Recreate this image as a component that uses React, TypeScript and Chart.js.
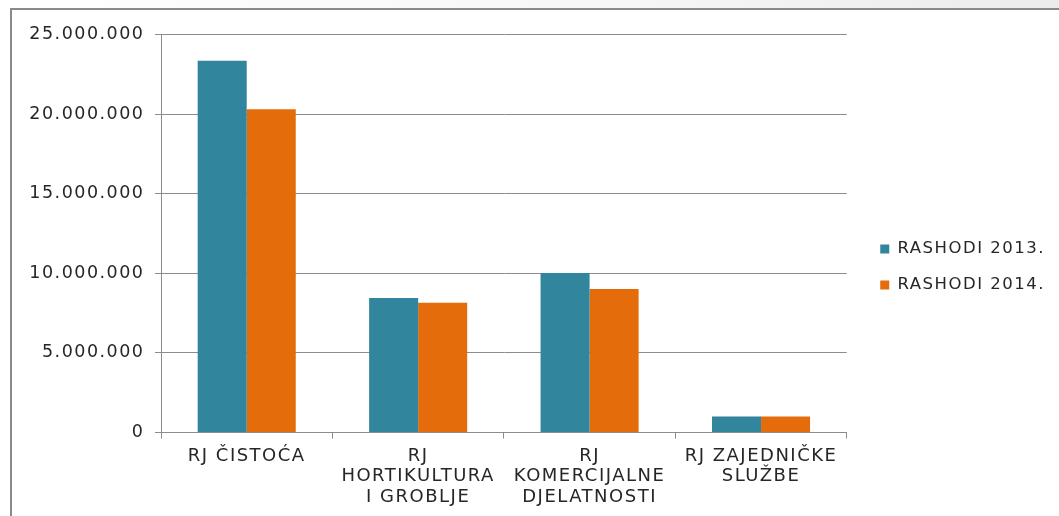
import React, { useEffect, useRef } from 'react';
import { Chart, registerables } from 'chart.js';

Chart.register(...registerables);

const categories: string[][] = [
  ['RJ ČISTOĆA'],
  ['RJ', 'HORTIKULTURA', 'I GROBLJE'],
  ['RJ', 'KOMERCIJALNE', 'DJELATNOSTI'],
  ['RJ ZAJEDNIČKE', 'SLUŽBE'],
];
const seriesNames = ['RASHODI 2013.', 'RASHODI 2014.'];
const rashodi2013 = [23350000, 8450000, 10020000, 1010000];
const rashodi2014 = [20300000, 8150000, 9020000, 1010000];
const seriesColors = ['#31859C', '#E46C0A'];
const yMax = 25000000;
const yStep = 5000000;

const FONT = "'DejaVu Sans', sans-serif";
const TEXT = '#262626';
const GRID = '#8c8c8c';

function formatThousands(v: number): string {
  return String(Math.round(v)).replace(/\B(?=(\d{3})+(?!\d))/g, '.');
}

const letterSpacingPlugin = {
  id: 'letterSpacing',
  beforeUpdate(chart: any) {
    chart.ctx.letterSpacing = '1.5px';
  },
  beforeDraw(chart: any) {
    chart.ctx.letterSpacing = '1.5px';
  },
};

export default function App() {
  const ref = useRef<HTMLCanvasElement | null>(null);

  useEffect(() => {
    if (!ref.current) return;
    const chart = new Chart(ref.current, {
      type: 'bar',
      data: {
        labels: categories,
        datasets: [
          {
            label: seriesNames[0],
            data: rashodi2013,
            backgroundColor: seriesColors[0],
            borderWidth: 0,
          },
          {
            label: seriesNames[1],
            data: rashodi2014,
            backgroundColor: seriesColors[1],
            borderWidth: 0,
          },
        ],
      },
      options: {
        animation: false,
        responsive: false,
        devicePixelRatio: 1,
        layout: { padding: { left: 0, top: 8, right: 4, bottom: 0 } },
        datasets: {
          bar: { categoryPercentage: 0.572, barPercentage: 1 },
        },
        plugins: {
          tooltip: { enabled: false },
          legend: {
            position: 'right',
            maxWidth: 400,
            labels: {
              boxWidth: 9,
              boxHeight: 9,
              padding: 19.5,
              color: TEXT,
              font: { family: FONT, size: 16.5 },
            },
          },
        },
        scales: {
          x: {
            offset: true,
            grid: {
              offset: true,
              drawOnChartArea: false,
              drawTicks: true,
              tickLength: 6,
              color: GRID,
            },
            border: { display: true, color: GRID },
            ticks: {
              color: TEXT,
              padding: 7,
              maxRotation: 0,
              autoSkip: false,
              font: { family: FONT, size: 18, lineHeight: 1.16 },
            },
            afterFit: (s: any) => {
              s.height = 83.5;
            },
          },
          xTop: {
            type: 'category',
            axis: 'x',
            position: 'top',
            display: true,
            grid: { display: false },
            border: { display: false },
            ticks: { display: false },
            afterFit: (s: any) => {
              s.height = 16.5;
            },
          },
          y: {
            min: 0,
            max: yMax,
            grid: { color: GRID, tickLength: 6 },
            border: { display: true, color: GRID },
            ticks: {
              stepSize: yStep,
              color: TEXT,
              padding: 10.5,
              font: { family: FONT, size: 17.5 },
              callback: (v: any) => formatThousands(Number(v)),
            },
            afterFit: (s: any) => {
              s.width = 149;
            },
          },
          yPad: {
            type: 'linear',
            axis: 'y',
            position: 'right',
            display: true,
            grid: { display: false },
            border: { display: false },
            ticks: { display: false },
            afterFit: (s: any) => {
              s.width = 14;
            },
          },
        },
      } as any,
      plugins: [letterSpacingPlugin],
    });
    return () => chart.destroy();
  }, []);

  return (
    <div
      style={{
        position: 'fixed',
        left: 0,
        top: 0,
        width: 1059,
        height: 516,
        overflow: 'hidden',
        background: 'linear-gradient(to right, #ffffff 0%, #f6f6f6 60%, #ececec 100%)',
      }}
    >
      <div
        style={{
          position: 'absolute',
          left: 10,
          top: 8,
          width: 1100,
          height: 600,
          borderLeft: '2px solid #8a8a8a',
          borderTop: '2px solid #8a8a8a',
          background: '#ffffff',
        }}
      >
        <canvas
          ref={ref}
          width={1047}
          height={506}
          style={{ position: 'absolute', left: 0, top: 0, display: 'block' }}
        />
      </div>
    </div>
  );
}
